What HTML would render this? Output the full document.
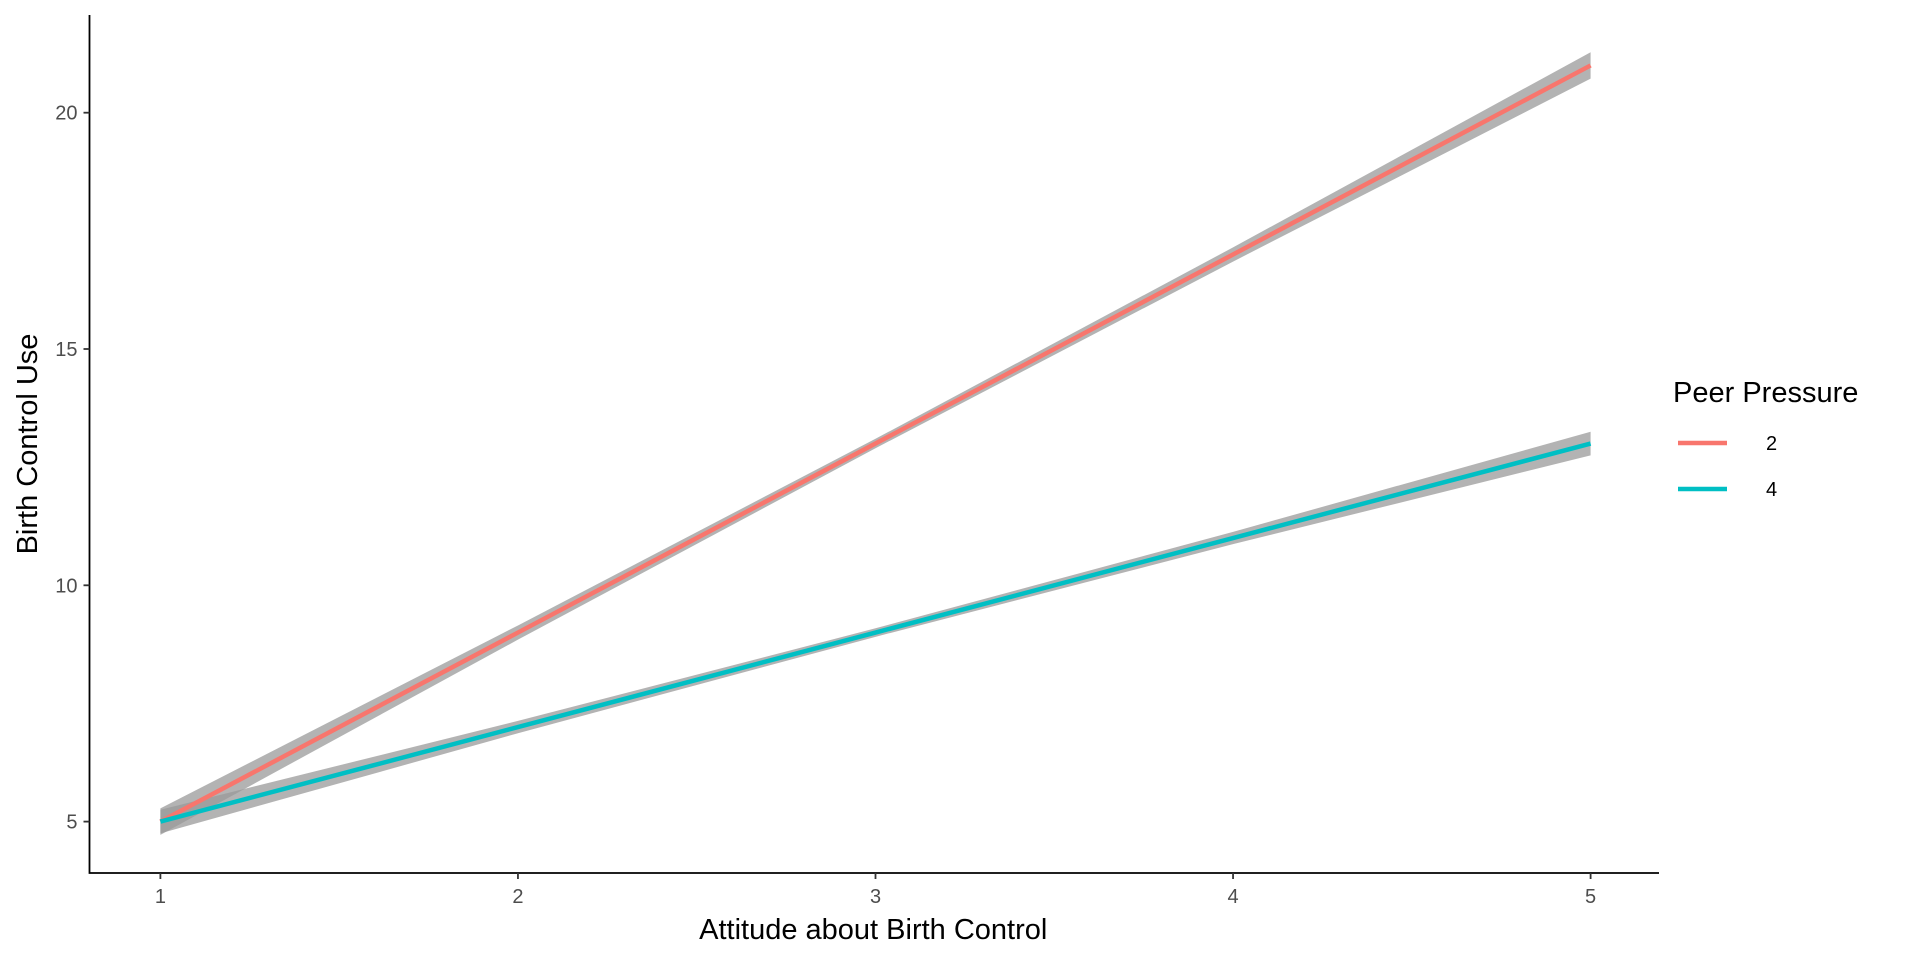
<!DOCTYPE html>
<html><head><meta charset="utf-8"><style>
html,body{margin:0;padding:0;background:#fff;}
svg{display:block;font-family:"Liberation Sans",sans-serif;}
</style></head><body>
<svg id="chart" width="1920" height="960"></svg>
<script>
const xVals=[1,2,3,4,5];
const seriesNames=["2","4"];
const seriesRed=[5,9,13,17,21];
const seriesTeal=[5,7,9,11,13];
const seRed=[0.28,0.15,0.1,0.15,0.28];
const seTeal=[0.25,0.13,0.09,0.13,0.25];
const xTicks=[1,2,3,4,5];
const yTicks=[5,10,15,20];
const colors=["#F8766D","#00BFC4"];
const NS="http://www.w3.org/2000/svg";
const svg=document.getElementById('chart');
const X0=89.5,X1=1659,Y0=873,Y1=15;
function sx(v){return 160.4+(v-1)*(1590.6-160.4)/4;}
function sy(v){return 821.6-(v-5)*(821.6-112.7)/15;}
function el(t,a,p){const e=document.createElementNS(NS,t);for(const k in a)e.setAttribute(k,a[k]);(p||svg).appendChild(e);return e;}
[[seriesRed,seRed],[seriesTeal,seTeal]].forEach((s,i)=>{
  let up=xVals.map((x,j)=>sx(x)+','+sy(s[0][j]+s[1][j]));
  let lo=xVals.map((x,j)=>sx(x)+','+sy(s[0][j]-s[1][j])).reverse();
  const r=el('polygon',{points:up.concat(lo).join(' '),fill:'#999999','fill-opacity':0.75});
  
  
});
[seriesRed,seriesTeal].forEach((s,i)=>{
  const l=el('polyline',{points:xVals.map((x,j)=>sx(x)+','+sy(s[j])).join(' '),fill:'none',stroke:colors[i],'stroke-width':4.5});
  
  
});
const ax=el('path',{d:`M${X0},${Y1}V${Y0}H${X1}`,fill:'none',stroke:'#000','stroke-width':1.8});


xTicks.forEach(t=>{
  el('line',{x1:sx(t),x2:sx(t),y1:Y0,y2:Y0+6,stroke:'#333','stroke-width':1.8});
  const tx=el('text',{x:sx(t),y:Y0+30,'text-anchor':'middle','font-size':20,fill:'#4d4d4d'});tx.textContent=t;
  
  
});
yTicks.forEach(t=>{
  el('line',{x1:X0-6,x2:X0,y1:sy(t),y2:sy(t),stroke:'#333','stroke-width':1.8});
  const tx=el('text',{x:X0-12,y:sy(t)+7,'text-anchor':'end','font-size':20,fill:'#4d4d4d'});tx.textContent=t;
  
  
});
const xt=el('text',{x:(X0+X1)/2-1,y:939,'text-anchor':'middle','font-size':29,fill:'#000'});xt.textContent='Attitude about Birth Control';


const yt=el('text',{x:0,y:0,'text-anchor':'middle','font-size':29,fill:'#000',transform:`translate(37,${(Y0+Y1)/2}) rotate(-90)`});yt.textContent='Birth Control Use';


const lt=el('text',{x:1673,y:402,'font-size':29,fill:'#000'});lt.textContent='Peer Pressure';


seriesNames.forEach((n,i)=>{
  const y=443+i*46;
  const g=el('g',{});
  
  
  el('line',{x1:1678,x2:1727,y1:y,y2:y,stroke:colors[i],'stroke-width':4.5},g);
  const t=el('text',{x:1766,y:y+7,'font-size':20,fill:'#000'},g);t.textContent=n;
});
</script>
</body></html>
